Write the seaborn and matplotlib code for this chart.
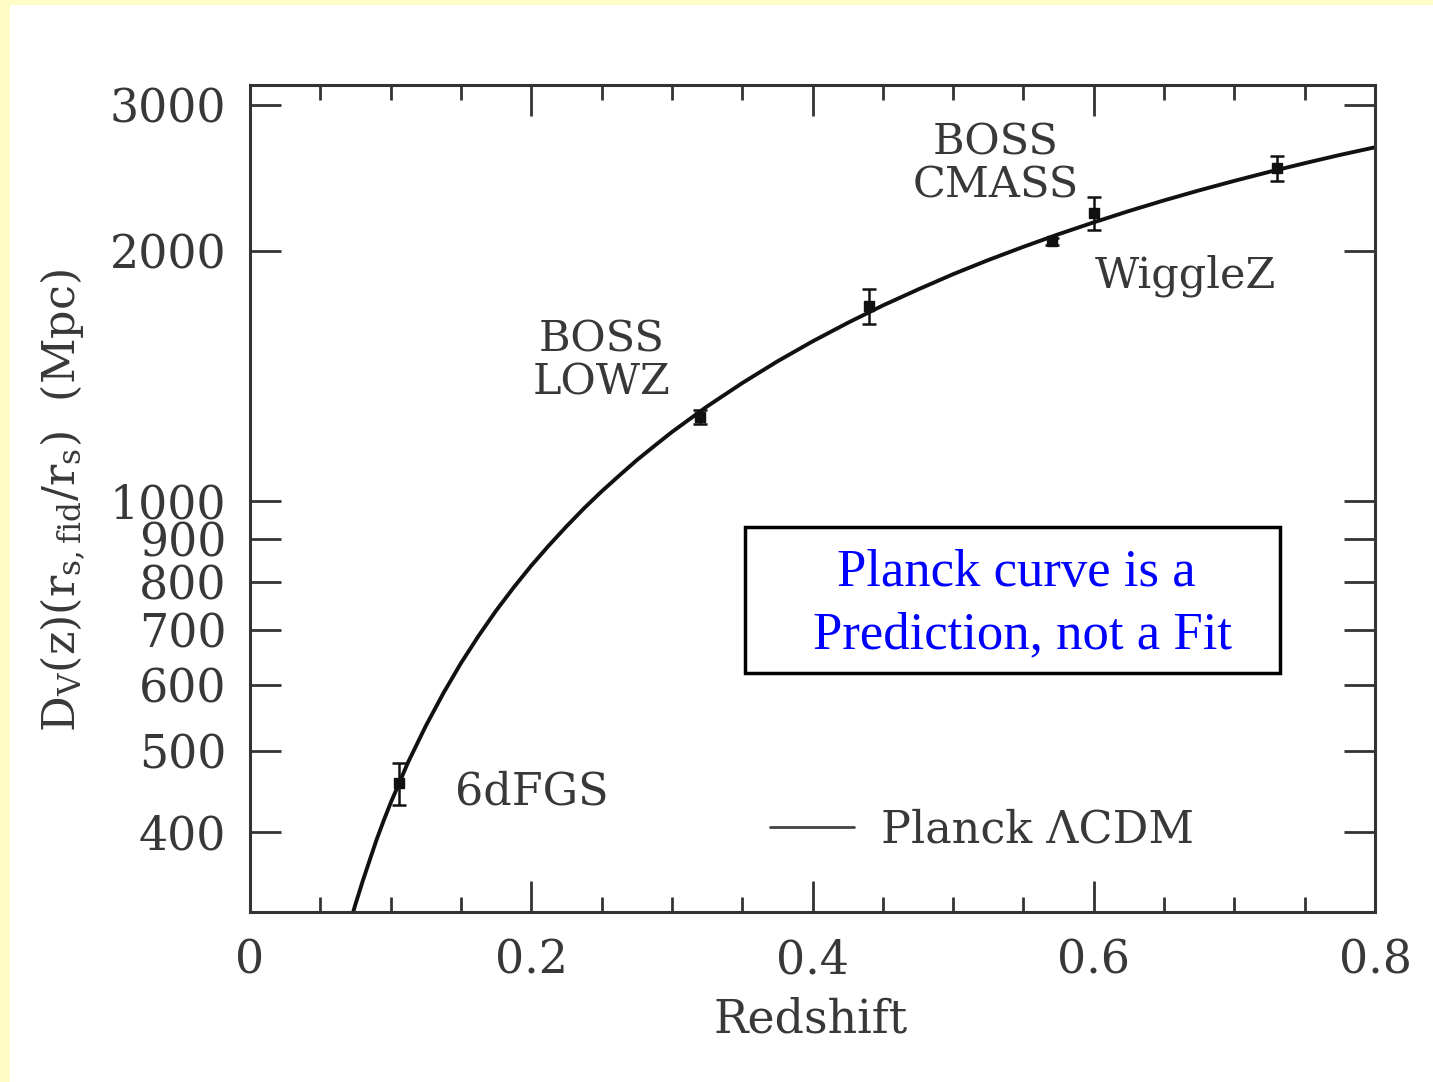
import matplotlib
matplotlib.use("Agg")
import matplotlib.pyplot as plt
from matplotlib.patches import Rectangle
import seaborn as sns
import pandas as pd

# ---- data ----
curve_z = [0.07, 0.075, 0.08, 0.085, 0.09, 0.095, 0.10, 0.1125, 0.125, 0.1375, 0.15,
           0.1625, 0.175, 0.1875, 0.20, 0.2125, 0.225, 0.2375, 0.25, 0.2625, 0.275,
           0.2875, 0.30, 0.325, 0.35, 0.375, 0.40, 0.425, 0.45, 0.475, 0.50, 0.525,
           0.55, 0.575, 0.60, 0.625, 0.65, 0.675, 0.70, 0.725, 0.75, 0.775, 0.80]
curve_dv = [306, 327, 348, 369, 391, 412, 433, 485, 536, 587, 638,
            688, 738, 787, 836, 884, 932, 980, 1027, 1073, 1120,
            1165, 1211, 1300, 1387, 1473, 1557, 1639, 1720, 1798, 1876, 1951,
            2024, 2096, 2166, 2235, 2302, 2367, 2430, 2492, 2552, 2611, 2667]

pt_z = [0.106, 0.32, 0.44, 0.57, 0.60, 0.73]
pt_dv = [457, 1264, 1716, 2056, 2221, 2516]
pt_err = [27, 25, 83, 20, 101, 86]

y_ticks = [400, 500, 600, 700, 800, 900, 1000, 2000, 3000]
x_ticks = [0, 0.2, 0.4, 0.6, 0.8]
x_ticklabels = ["0", "0.2", "0.4", "0.6", "0.8"]

sns.set_theme(style="ticks")
plt.rcParams["font.family"] = ["DejaVu Serif"]
plt.rcParams["mathtext.fontset"] = "dejavuserif"

TXT = "#383838"

fig = plt.figure(figsize=(14.33, 10.82), dpi=100, facecolor="#FFFCC6")
fig.patches.append(Rectangle((10 / 1433, 0), 1, 1 - 5 / 1082, transform=fig.transFigure,
                             facecolor="white", edgecolor="none", zorder=-10))
ax = fig.add_axes([250 / 1433, 1 - 912 / 1082, 1125 / 1433, 827 / 1082])
ax.set_facecolor("white")

df = pd.DataFrame({"z": curve_z, "dv": curve_dv})
sns.lineplot(data=df, x="z", y="dv", ax=ax, color="#111111", linewidth=2.8,
             label="Planck ΛCDM")
ax.errorbar(pt_z, pt_dv, yerr=pt_err, fmt="s", color="#111111", markersize=7,
            capsize=5, elinewidth=1.8, capthick=1.8, zorder=5)

ax.set_yscale("log")
ax.set_xlim(0, 0.8)
ax.set_ylim(320, 3170)
ax.set_yticks(y_ticks)
ax.set_yticklabels([str(v) for v in y_ticks])
ax.yaxis.set_minor_locator(matplotlib.ticker.NullLocator())
ax.set_xticks(x_ticks)
ax.set_xticklabels(x_ticklabels)
ax.set_xticks([0.05, 0.1, 0.15, 0.25, 0.3, 0.35, 0.45, 0.5, 0.55, 0.65, 0.7, 0.75], minor=True)

ax.tick_params(which="both", direction="in", top=True, right=True, color="#333333",
               labelcolor=TXT, labelsize=33)
ax.tick_params(which="major", length=22, width=2.0)
ax.tick_params(axis="x", which="major", pad=19)
ax.tick_params(axis="y", which="major", pad=17)
ax.tick_params(which="minor", length=11, width=2.0)
for s in ax.spines.values():
    s.set_linewidth(2.2)
    s.set_color("#333333")

ax.set_xlabel("Redshift", fontsize=33, color=TXT)
ax.xaxis.set_label_coords(0.4987, -0.103)
ax.set_ylabel(r"$\mathrm{D_V(z)(r_{s,fid}/r_s)}$  (Mpc)", fontsize=32, color=TXT)
ax.yaxis.set_label_coords(-0.145, 0.497)

ax.text(0.2497, 1475, "BOSS\nLOWZ", ha="center", va="center", fontsize=31, color=TXT,
        linespacing=1.05)
ax.text(0.530, 2547, "BOSS\nCMASS", ha="center", va="center", fontsize=31, color=TXT,
        linespacing=1.05)
ax.text(0.601, 1867, "WiggleZ", ha="left", va="center", fontsize=31, color=TXT)
ax.text(0.1458, 447, "6dFGS", ha="left", va="center", fontsize=32, color=TXT)

leg = ax.legend(loc="center left", bbox_to_anchor=(0.462, 0.099), frameon=False,
                fontsize=32, handlelength=1.9, handletextpad=0.6, borderpad=0,
                borderaxespad=0)
for t in leg.get_texts():
    t.set_color(TXT)
for l in leg.get_lines():
    l.set_linewidth(2.0)
    l.set_color("#444444")

ax.add_patch(Rectangle((0.44, 0.289), 0.4756, 0.1765, transform=ax.transAxes,
                       facecolor="white", edgecolor="black", linewidth=2.5, zorder=6))
ax.text(0.681, 0.410, "Planck curve is a", transform=ax.transAxes, ha="center",
        va="center", fontsize=38, color="#0000FF", family=["Liberation Serif"], zorder=7)
ax.text(0.6871, 0.334, "Prediction, not a Fit", transform=ax.transAxes, ha="center",
        va="center", fontsize=38, color="#0000FF", family=["Liberation Serif"], zorder=7)

fig.savefig("out.png", dpi=100, facecolor=fig.get_facecolor())
